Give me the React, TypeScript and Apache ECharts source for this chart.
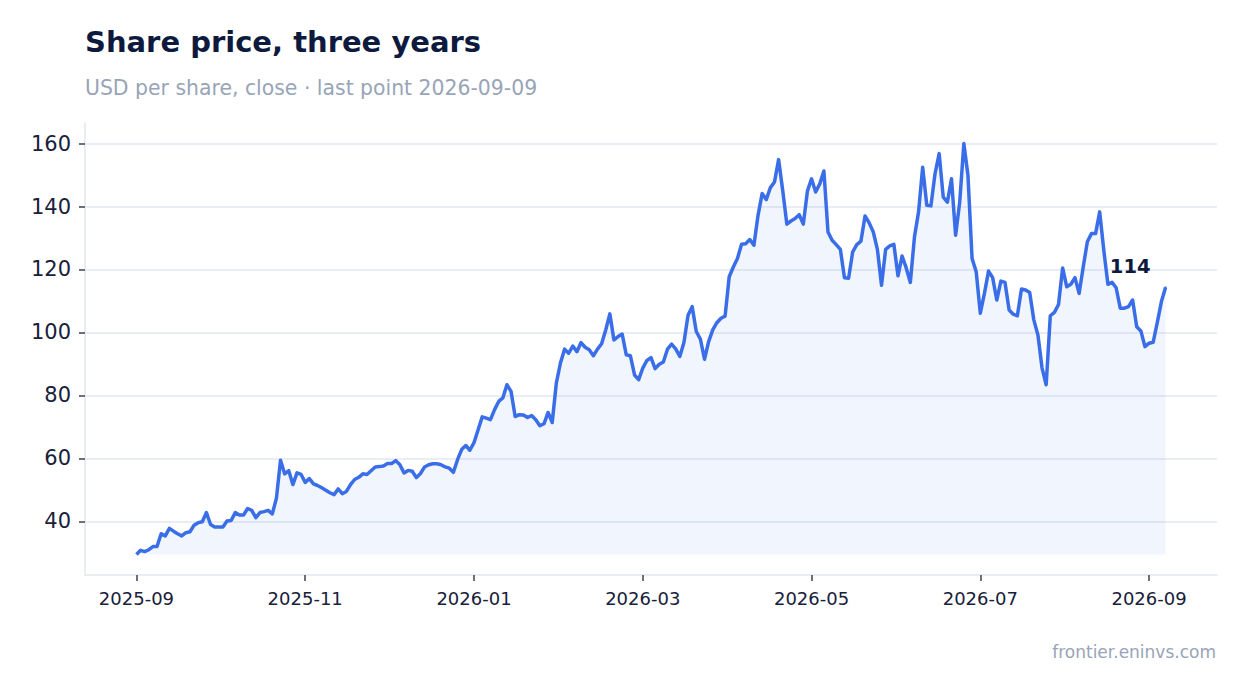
import { useEffect, useRef } from 'react'
import * as echarts from 'echarts'

// closes, evenly spaced from START_DATE to END_DATE
const START_DATE = Date.UTC(2025, 8, 1)
const END_DATE = Date.UTC(2026, 8, 9)

const PRICES = [
  29.5, 30.8, 30.4, 31.0, 32.0, 32.0, 36.1, 35.4, 37.8, 36.9,
  36.1, 35.4, 36.4, 36.7, 38.8, 39.6, 39.9, 42.8, 39.0, 38.2,
  38.2, 38.2, 40.1, 40.3, 42.8, 42.0, 42.0, 44.1, 43.5, 41.2,
  42.8, 43.1, 43.5, 42.4, 47.3, 59.4, 55.1, 56.1, 51.7, 55.4,
  54.9, 52.4, 53.6, 51.9, 51.4, 50.7, 49.9, 49.1, 48.5, 50.3,
  48.8, 49.5, 51.7, 53.3, 54.0, 55.1, 54.9, 56.1, 57.3, 57.4,
  57.6, 58.4, 58.4, 59.3, 58.0, 55.4, 56.2, 55.9, 53.9, 55.2,
  57.3, 58.0, 58.3, 58.3, 58.0, 57.3, 56.9, 55.6, 59.6, 62.8,
  64.1, 62.6, 65.0, 69.1, 73.2, 72.8, 72.3, 75.5, 78.1, 79.2,
  83.4, 81.3, 73.3, 73.9, 73.8, 73.0, 73.6, 72.3, 70.4, 71.0,
  74.6, 71.4, 83.9, 90.3, 94.7, 93.4, 95.7, 93.9, 96.8, 95.3,
  94.5, 92.6, 94.7, 96.4, 100.8, 105.9, 97.6, 98.7, 99.5, 92.9,
  92.6, 86.5, 85.0, 88.7, 91.1, 92.0, 88.5, 89.9, 90.6, 94.7,
  96.3, 94.8, 92.4, 96.8, 105.5, 108.2, 100.3, 97.9, 91.5, 97.1,
  100.8, 103.1, 104.5, 105.2, 117.7, 120.8, 123.5, 128.0, 128.2, 129.5,
  127.7, 137.2, 144.1, 142.2, 146.0, 147.8, 154.9, 145.1, 134.4, 135.4,
  136.2, 137.4, 134.4, 144.9, 148.8, 144.6, 147.2, 151.3, 131.9, 129.3,
  127.9, 126.4, 117.4, 117.2, 125.6, 127.9, 129.0, 137.0, 134.8, 131.9,
  126.4, 115.0, 126.4, 127.5, 128.0, 118.0, 124.3, 120.5, 115.9, 130.3,
  138.3, 152.5, 140.4, 140.2, 150.4, 156.8, 143.0, 141.4, 148.8, 130.9,
  141.4, 160.0, 149.9, 123.5, 119.3, 106.1, 112.4, 119.5, 117.4, 110.3,
  116.3, 115.9, 107.1, 105.8, 105.3, 113.8, 113.5, 112.7, 104.0, 99.2,
  88.7, 83.4, 105.3, 106.4, 108.9, 120.5, 114.5, 115.3, 117.4, 112.4,
  120.8, 128.8, 131.4, 131.4, 138.3, 126.1, 115.3, 115.9, 114.2, 107.7,
  107.7, 108.2, 110.3, 101.8, 100.5, 95.5, 96.6, 96.9, 103.2, 109.8,
  114.3,
]

// y ticks and x tick spacing (a label every 41 points)
const Y_TICKS = [40, 60, 80, 100, 120, 140, 160]
const X_TICK_EVERY = 41
const X_TICK_COUNT = 7

const DAY = 86400000
const W = 1247
const H = 693
const GRID = { left: 85, right: 30, top: 123, bottom: 118 }
const FONT = 'DejaVu Sans'
const LINE = '#3a6ee8'
const INK = '#18203a'
const MUTED = '#98a4b8'
const RULE = '#e3e7f0'

const fmtMonth = (days: number) => {
  const d = new Date(START_DATE + days * DAY)
  return `${d.getUTCFullYear()}-${String(d.getUTCMonth() + 1).padStart(2, '0')}`
}

export default function App() {
  const chartRef = useRef<HTMLDivElement>(null)

  useEffect(() => {
    document.body.style.margin = '0'
    if (!chartRef.current) return
    const chart = echarts.init(chartRef.current, undefined, { renderer: 'svg' })

    const n = PRICES.length
    const span = (END_DATE - START_DATE) / DAY
    const xMin = -0.05 * span
    const xMax = span * 1.05
    const lo = Math.min(...PRICES)
    const hi = Math.max(...PRICES)
    const yMin = lo - 0.05 * (hi - lo)
    const yMax = hi + 0.05 * (hi - lo)

    const plotW = W - GRID.left - GRID.right
    const plotH = H - GRID.top - GRID.bottom
    const pxd = plotW / (xMax - xMin)
    const pxu = plotH / (yMax - yMin)

    const tickStep = (X_TICK_EVERY * span) / (n - 1)
    const lastTick = Number((tickStep * (X_TICK_COUNT - 1)).toFixed(4))
    const yTop = Y_TICKS[Y_TICKS.length - 1]
    const yBot = Y_TICKS[0]

    const points = PRICES.map((v, i) => [(i * span) / (n - 1), v])
    const last = points[n - 1]

    const hidden = { type: 'value', show: false, min: 0, max: 1 }

    chart.setOption({
      animation: false,
      textStyle: { fontFamily: FONT },
      title: [
        {
          text: 'Share price, three years',
          left: GRID.left,
          top: 27,
          padding: 0,
          textStyle: { fontSize: 29, fontWeight: 'bold', color: '#0d1a3e', fontFamily: FONT },
        },
        {
          text: 'USD per share, close · last point 2026-09-09',
          left: GRID.left,
          top: 78,
          padding: 0,
          textStyle: { fontSize: 20.4, fontWeight: 'normal', color: MUTED, fontFamily: FONT },
        },
        {
          text: 'frontier.eninvs.com',
          right: 31,
          top: 643,
          padding: 0,
          textStyle: { fontSize: 17, fontWeight: 'normal', color: MUTED, fontFamily: FONT },
        },
      ],
      grid: [
        // data
        { ...GRID },
        // x tick labels, day 0 .. last tick
        {
          top: GRID.top,
          bottom: GRID.bottom,
          left: GRID.left + (0 - xMin) * pxd,
          right: GRID.right + (xMax - lastTick) * pxd,
        },
        // y tick labels + grid lines
        {
          left: GRID.left,
          right: GRID.right,
          top: GRID.top + (yMax - yTop) * pxu,
          bottom: GRID.bottom + (yBot - yMin) * pxu,
        },
      ],
      xAxis: [
        {
          type: 'value',
          gridIndex: 0,
          min: xMin,
          max: xMax,
          axisLine: { show: true, onZero: false, lineStyle: { color: RULE, width: 1.5 } },
          axisTick: { show: false },
          axisLabel: { show: false },
          splitLine: { show: false },
        },
        {
          type: 'value',
          gridIndex: 1,
          min: 0,
          max: lastTick,
          interval: tickStep,
          axisLine: { show: false, onZero: false },
          axisTick: { show: true, length: 6, lineStyle: { color: '#3b4152', width: 1.5 } },
          axisLabel: { margin: 14, fontSize: 18, color: INK, fontFamily: FONT, formatter: fmtMonth },
          splitLine: { show: false },
        },
        { ...hidden, gridIndex: 2 },
      ],
      yAxis: [
        {
          type: 'value',
          gridIndex: 0,
          min: yMin,
          max: yMax,
          axisLine: { show: true, onZero: false, lineStyle: { color: RULE, width: 1.5 } },
          axisTick: { show: false },
          axisLabel: { show: false },
          splitLine: { show: false },
        },
        { ...hidden, gridIndex: 1 },
        {
          type: 'value',
          gridIndex: 2,
          min: yBot,
          max: yTop,
          interval: 20,
          axisLine: { show: false, onZero: false },
          axisTick: { show: true, length: 6, lineStyle: { color: '#3b4152', width: 1.5 } },
          axisLabel: { margin: 14, fontSize: 21, color: INK, fontFamily: FONT },
          splitLine: { show: true, lineStyle: { color: RULE, width: 1.5 } },
        },
      ],
      series: [
        {
          type: 'line',
          xAxisIndex: 0,
          yAxisIndex: 0,
          data: points,
          symbol: 'none',
          silent: true,
          lineStyle: { color: LINE, width: 3.5, join: 'round' },
          itemStyle: { color: LINE },
          areaStyle: { color: 'rgba(58,110,232,0.1)', origin: lo },
          z: 3,
        },
        {
          // last close, labelled
          type: 'scatter',
          xAxisIndex: 0,
          yAxisIndex: 0,
          data: [last],
          symbolSize: 2,
          silent: true,
          itemStyle: { color: LINE, opacity: 1 },
          label: {
            show: true,
            position: 'left',
            distance: 14,
            offset: [0, -21],
            formatter: () => String(Math.round(last[1])),
            fontSize: 19.5,
            fontWeight: 'bold',
            color: '#0d1a3d',
            opacity: 1,
            textBorderWidth: 0,
            textBorderColor: 'transparent',
            fontFamily: FONT,
          },
          z: 4,
        },
      ],
    })

    return () => chart.dispose()
  }, [])

  return <div ref={chartRef} style={{ width: W, height: H }} />
}
